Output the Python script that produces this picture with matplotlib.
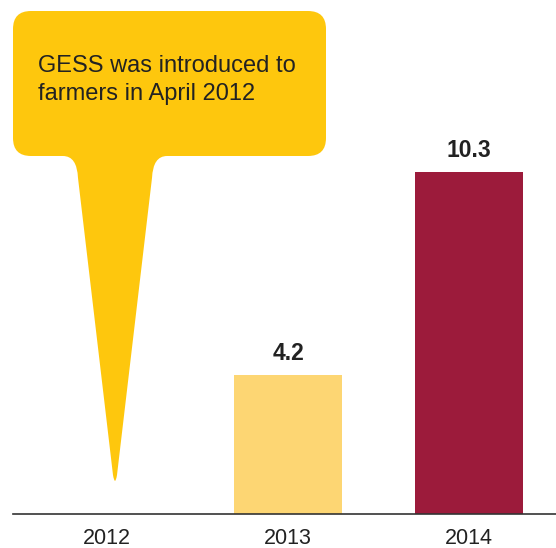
"""
GESS uptake bar chart with callout bubble for 2012.
"""

import matplotlib
matplotlib.use("Agg")
import matplotlib.pyplot as plt
from matplotlib.patches import PathPatch
from matplotlib.path import Path
from matplotlib.transforms import Affine2D

years = ["2012", "2013", "2014"]
values = [None, 4.2, 10.3]
bar_colors = [None, "#fdd673", "#9c1b3b"]
callout_text = "GESS was introduced to\nfarmers in April 2012"

W, H = 556, 548
plt.rcParams.update({"font.family": ["Liberation Sans", "DejaVu Sans"]})

fig = plt.figure(figsize=(W / 100, H / 100), dpi=100)
ax = fig.add_axes([13 / W, 34 / H, 1 - 13 / W, 1 - 34 / H])

x = list(range(len(years)))
for xi, v, c in zip(x, values, bar_colors):
    if v is None:
        continue
    ax.bar(xi, v, width=0.6, color=c)
    ax.text(xi, v + 0.3, f"{v:.1f}", ha="center", va="bottom",
            fontsize=16.5, weight="bold", color="#222222")

ax.set_xlim(-0.52, 2.48)
ax.set_ylim(0, 15.5)
ax.set_xticks(x)
ax.set_xticklabels(years, fontsize=15.5, color="#222222")
ax.tick_params(axis="x", length=0, pad=10)
ax.set_yticks([])
for s in ["top", "left", "right"]:
    ax.spines[s].set_visible(False)
ax.spines["bottom"].set_color("#333333")
ax.spines["bottom"].set_linewidth(1.2)

# callout bubble, drawn in pixel coords measured from the top-left
px = Affine2D().scale(1 / W, -1 / H).translate(0, 1) + fig.transFigure
L, R, T, B, r = 13, 326, 11, 156, 18
tip_x, tip_y = 115, 487
verts = [
    (L + r, T), (R - r, T), (R, T), (R, T + r),
    (R, B - r), (R, B), (R - r, B),
    (167, B), (153, B), (152, B + 22),
    (tip_x + 2, tip_y - 12), (tip_x, tip_y), (tip_x - 2, tip_y - 12),
    (78, B + 22), (77, B), (63, B),
    (L + r, B), (L, B), (L, B - r),
    (L, T + r), (L, T), (L + r, T),
    (L + r, T),
]
codes = [
    Path.MOVETO, Path.LINETO, Path.CURVE3, Path.CURVE3,
    Path.LINETO, Path.CURVE3, Path.CURVE3,
    Path.LINETO, Path.CURVE3, Path.CURVE3,
    Path.LINETO, Path.CURVE3, Path.CURVE3,
    Path.LINETO, Path.CURVE3, Path.CURVE3,
    Path.LINETO, Path.CURVE3, Path.CURVE3,
    Path.LINETO, Path.CURVE3, Path.CURVE3,
    Path.CLOSEPOLY,
]
fig.patches.append(PathPatch(Path(verts, codes), transform=px,
                             facecolor="#fec70d", edgecolor="none"))
fig.text(38 / W, 1 - 80 / H, callout_text, ha="left", va="center",
         fontsize=17, color="#222222", linespacing=1.4)

fig.savefig("out.png", dpi=100)
